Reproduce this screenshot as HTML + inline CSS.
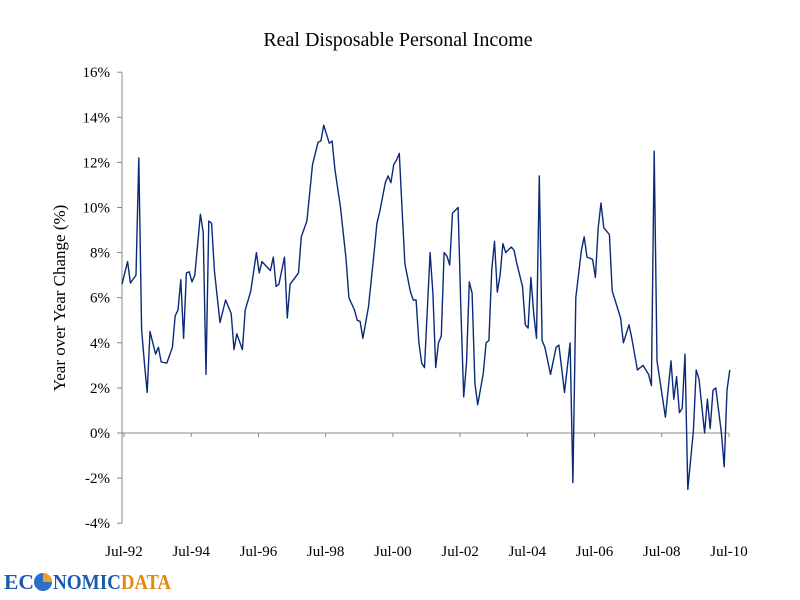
<!DOCTYPE html>
<html><head><meta charset="utf-8"><style>
body{margin:0;background:#fff;width:800px;height:600px;overflow:hidden}
svg{display:block}
text{font-family:"Liberation Serif",serif}
</style></head><body>
<svg id="chart" width="800" height="600">
<text x="398" y="46" font-size="20" text-anchor="middle" fill="#000">Real Disposable Personal Income</text>
<text transform="translate(65,298) rotate(-90)" font-size="17" text-anchor="middle" fill="#000">Year over Year Change (%)</text>
<g id="axes"></g>
<g id="series"></g>
<g>
<text x="4" y="589" font-size="21" font-weight="bold" fill="#1a5bb0" textLength="30" lengthAdjust="spacingAndGlyphs" style="font-family:'Liberation Serif',serif">EC</text>
<circle cx="43" cy="582" r="9" fill="#2a6fc9"/>
<path d="M43 582 L43 573 A9 9 0 0 1 52 582 Z" fill="#f0a020"/>
<text x="53" y="589" font-size="21" font-weight="bold" fill="#1a5bb0" textLength="68" lengthAdjust="spacingAndGlyphs">NOMIC</text>
<text x="121" y="589" font-size="21" font-weight="bold" fill="#e08a10" textLength="50" lengthAdjust="spacingAndGlyphs">DATA</text>
</g>
</svg>
<script>
const months=[0,2,3,5,6,7,8,9,10,12,13,14,16,18,19,20,21,22,23,24,25,26,28,29,30,31,32,33,35,37,39,40,41,43,44,46,48,49,50,53,54,55,56,58,59,60,63,64,66,68,70,71,72,74,75,76,78,80,81,83,84,85,86,88,90,91,92,94,95,96,97,98,99,100,101,103,104,105,106,107,108,109,110,111,112,113,114,115,116,117,118,120,121,122,123,124,125,126,127,129,130,131,132,133,134,135,136,137,139,140,141,143,144,145,146,147,148,149,150,151,153,155,156,158,160,161,162,164,165,166,168,169,170,171,172,174,175,178,179,181,182,184,186,188,189,190,191,194,196,197,198,199,200,201,202,204,205,206,208,209,210,211,212,214,215,216,217];
const values=[6.6,7.6,6.65,7.0,12.2,4.6,3.1,1.8,4.5,3.5,3.8,3.15,3.1,3.8,5.2,5.45,6.8,4.2,7.1,7.15,6.7,7.0,9.7,8.9,2.6,9.4,9.3,7.2,4.9,5.9,5.3,3.7,4.4,3.7,5.45,6.3,8.0,7.1,7.6,7.2,7.8,6.5,6.6,7.8,5.1,6.6,7.1,8.7,9.4,11.9,12.9,12.95,13.65,12.85,12.95,11.7,10.0,7.7,6.0,5.45,5.0,4.95,4.2,5.6,8.0,9.3,9.8,11.1,11.4,11.1,11.9,12.1,12.4,9.9,7.5,6.25,5.9,5.9,4.0,3.1,2.9,5.45,8.0,6.2,2.9,4.0,4.3,8.0,7.85,7.45,9.75,10.0,5.45,1.6,3.1,6.7,6.2,2.2,1.25,2.65,4.0,4.1,7.2,8.5,6.25,7.0,8.4,8.0,8.25,8.1,7.5,6.5,4.8,4.65,6.9,5.3,4.2,11.4,4.1,3.8,2.6,3.8,3.9,1.8,4.0,-2.2,6.0,8.1,8.7,7.8,7.7,6.9,9.1,10.2,9.1,8.8,6.3,5.1,4.0,4.8,4.2,2.8,3.0,2.6,2.1,12.5,3.2,0.7,3.2,1.5,2.5,0.9,1.1,3.5,-2.5,0.1,2.8,2.4,0,1.5,0.2,1.9,2.0,0,-1.5,1.9,2.8];
const yTicks=[-4,-2,0,2,4,6,8,10,12,14,16];
const xTickMonths=[0,24,48,72,96,120,144,168,192,216];
const xTickLabels=["Jul-92","Jul-94","Jul-96","Jul-98","Jul-00","Jul-02","Jul-04","Jul-06","Jul-08","Jul-10"];
const NS="http://www.w3.org/2000/svg";
const X0=122,X1=727,Y0=433,YPX=22.55;
function xs(m){return X0+(m-0)*(X1-X0)/216;}
function ys(v){return Y0-v*YPX;}
const ax=document.getElementById('axes');
function mk(t,a,p){const e=document.createElementNS(NS,t);for(const k in a)e.setAttribute(k,a[k]);p.appendChild(e);return e;}
let yl=mk('line',{x1:X0,x2:X0,y1:ys(16),y2:ys(-4),stroke:'#888','stroke-width':1},ax);


yTicks.forEach(v=>{
 const tk=mk('line',{x1:X0-5,x2:X0,y1:ys(v),y2:ys(v),stroke:'#888'},ax);
 
 
 const t=mk('text',{x:X0-12,y:ys(v)+5,'font-size':15,'text-anchor':'end',fill:'#000'},ax);
 t.textContent=v+'%';
 
 
});
let xl=mk('line',{x1:X0,x2:X1+2,y1:Y0,y2:Y0,stroke:'#888','stroke-width':1},ax);


xTickMonths.forEach((m,i)=>{
 const tk=mk('line',{x1:xs(m)+2,x2:xs(m)+2,y1:Y0,y2:Y0+4,stroke:'#888'},ax);
 
 
 const t=mk('text',{x:xs(m)+2,y:556,'font-size':15,'text-anchor':'middle',fill:'#000'},ax);
 t.textContent=xTickLabels[i];
 
 
});
const pts=months.map((m,i)=>xs(m).toFixed(1)+','+ys(values[i]).toFixed(1)).join(' ');
const pl=mk('polyline',{points:pts,fill:'none',stroke:'#0a2a78','stroke-width':1.4,'stroke-linejoin':'round'},document.getElementById('series'));


</script>
</body></html>
